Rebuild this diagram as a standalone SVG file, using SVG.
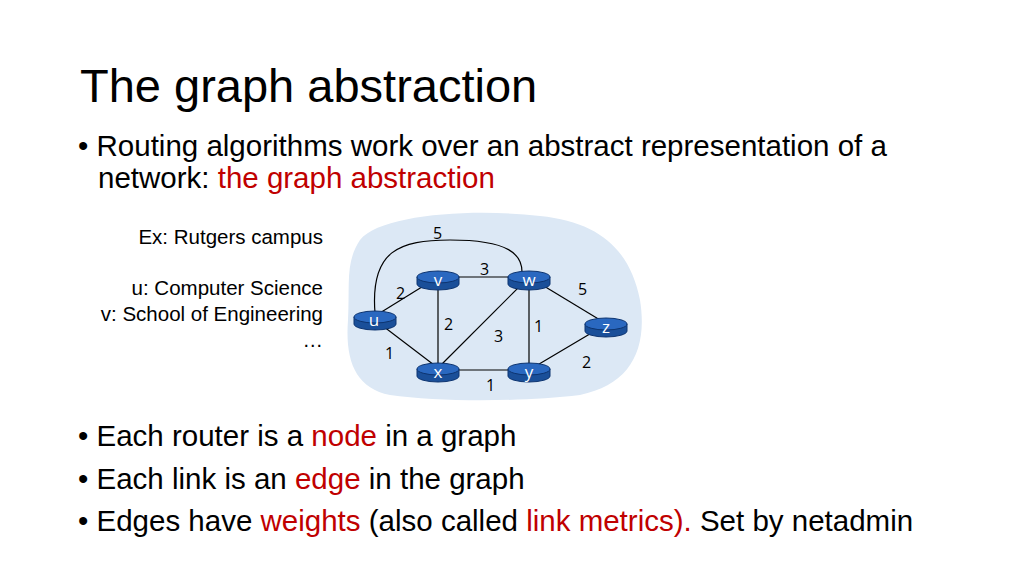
<svg xmlns="http://www.w3.org/2000/svg" width="1024" height="576" viewBox="0 0 1024 576">
<style>
.t{font-family:"Liberation Sans",Arial,sans-serif;fill:#000}
.r{fill:#c00000}
.e{stroke:#000;stroke-width:1.2;fill:none}
.w{font-family:"Open Sans","DejaVu Sans",sans-serif;font-size:16px;fill:#000}
.n{font-family:"Open Sans","DejaVu Sans",sans-serif;font-size:17px;fill:#fff;text-anchor:middle}
</style>
<defs>
<g id="rt">
<path d="M-21,-3 L-21,4 A21,6 0 0 0 21,4 L21,-3 Z" fill="#1a4f99" stroke="#0d3470" stroke-width="1"/>
<ellipse cx="0" cy="-3" rx="21" ry="6" fill="#2a68c0" stroke="#0d3470" stroke-width="1"/>
</g>
</defs>
<rect width="1024" height="576" fill="#fff"/>
<text class="t" x="80" y="102" font-size="47">The graph abstraction</text>
<text class="t" x="78" y="156" font-size="29.5">• Routing algorithms work over an abstract representation of a</text>
<text class="t" x="98" y="188" font-size="29.5">network: <tspan class="r">the graph abstraction</tspan></text>
<g font-size="20.5" text-anchor="end">
<text class="t" x="323" y="244">Ex: Rutgers campus</text>
<text class="t" x="323" y="295">u: Computer Science</text>
<text class="t" x="323" y="321">v: School of Engineering</text>
<text class="t" x="323" y="347">…</text>
</g>
<path d="M360,240 C380,215 470,208 540,216 C600,222 630,250 640,300 C648,350 630,385 580,395 C520,402 440,402 390,395 C355,388 345,360 348,320 C350,285 345,262 360,240 Z" fill="#dce8f5"/>
<g id="connectors">
<path class="e" d="M375,313 C370,250 400,240 450,240 C510,240 522,255 522,272"/>
<line class="e" x1="375" y1="316" x2="438" y2="277"/>
<line class="e" x1="375" y1="320" x2="438" y2="368"/>
<line class="e" x1="438" y1="277" x2="529" y2="277"/>
<line class="e" x1="438" y1="277" x2="438" y2="368"/>
<line class="e" x1="529" y1="277" x2="438" y2="368"/>
<line class="e" x1="529" y1="277" x2="529" y2="368"/>
<line class="e" x1="529" y1="277" x2="605" y2="323"/>
<line class="e" x1="438" y1="370" x2="529" y2="370"/>
<line class="e" x1="605" y1="325" x2="529" y2="370"/>
</g>
<g>
<text class="w" x="433" y="239">5</text>
<text class="w" x="480" y="275">3</text>
<text class="w" x="396" y="299">2</text>
<text class="w" x="578" y="295">5</text>
<text class="w" x="444" y="330">2</text>
<text class="w" x="534" y="332">1</text>
<text class="w" x="494" y="342">3</text>
<text class="w" x="385" y="359">1</text>
<text class="w" x="582" y="368">2</text>
<text class="w" x="486" y="391">1</text>
</g>
<g id="u"><use href="#rt" x="375" y="320"/><text class="n" x="374" y="326">u</text></g>
<g id="v"><use href="#rt" x="438" y="280"/><text class="n" x="438" y="286">v</text></g>
<g id="w"><use href="#rt" x="529" y="280"/><text class="n" x="529" y="286">w</text></g>
<g id="z"><use href="#rt" x="606" y="327"/><text class="n" x="606" y="333">z</text></g>
<g id="x"><use href="#rt" x="438" y="372"/><text class="n" x="438" y="378">x</text></g>
<g id="y"><use href="#rt" x="529" y="372"/><text class="n" x="529" y="378">y</text></g>
<text class="t" x="78" y="446" font-size="29.5">• Each router is a <tspan class="r">node</tspan> in a graph</text>
<text class="t" x="78" y="489" font-size="29.5">• Each link is an <tspan class="r">edge</tspan> in the graph</text>
<text class="t" x="78" y="531" font-size="29.5">• Edges have <tspan class="r">weights</tspan> (also called <tspan class="r">link metrics).</tspan> Set by netadmin</text>
</svg>
